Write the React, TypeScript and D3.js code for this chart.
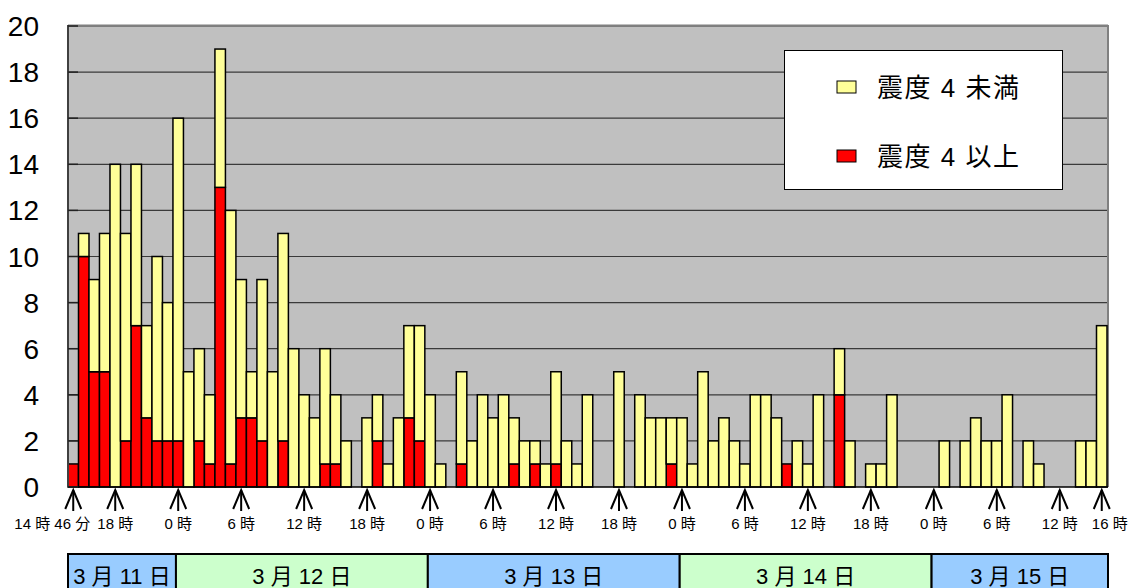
import * as d3 from "d3";

// 震度4以上 (hourly count, from 3/11 14時 to 3/15 16時)
const strong = [
  1, 10, 5, 5, 0, 2, 7, 3, 2, 2,
  2, 0, 2, 1, 13, 1, 3, 3, 2, 0, 2, 0, 0, 0, 1, 1, 0, 0, 0, 2, 0, 0, 3, 2,
  0, 0, 0, 1, 0, 0, 0, 0, 1, 0, 1, 0, 1, 0, 0, 0, 0, 0, 0, 0, 0, 0, 0, 1,
  0, 0, 0, 0, 0, 0, 0, 0, 0, 0, 1, 0, 0, 0, 0, 4, 0, 0, 0, 0, 0, 0, 0, 0,
  0, 0, 0, 0, 0, 0, 0, 0, 0, 0, 0, 0, 0, 0, 0, 0, 0,
];
// 震度4未満
const weak = [
  0, 1, 4, 6, 14, 9, 7, 4, 8, 6,
  14, 5, 4, 3, 6, 11, 6, 2, 7, 5, 9, 6, 4, 3, 5, 3, 2, 0, 3, 2, 1, 3, 4, 5,
  4, 1, 0, 4, 2, 4, 3, 4, 2, 2, 1, 1, 4, 2, 1, 4, 0, 0, 5, 0, 4, 3, 3, 2,
  3, 1, 5, 2, 3, 2, 1, 4, 4, 3, 0, 2, 1, 4, 0, 2, 2, 0, 1, 1, 4, 0, 0, 0,
  0, 2, 0, 2, 3, 2, 2, 4, 0, 2, 1, 0, 0, 0, 2, 2, 7,
];

const markerIdx = [0, 4, 10, 16, 22, 28, 34, 40, 46, 52, 58, 64, 70, 76, 82, 88, 94, 98];
const markerLabels = [
  "14 時 46 分", "18 時", "0 時", "6 時", "12 時", "18 時", "0 時", "6 時", "12 時",
  "18 時", "0 時", "6 時", "12 時", "18 時", "0 時", "6 時", "12 時", "16 時",
];

const dayStart = [0, 10, 34, 58, 82];
const dayLabels = ["3 月 11 日", "3 月 12 日", "3 月 13 日", "3 月 14 日", "3 月 15 日"];
const dayColors = ["#99ccff", "#ccffcc", "#99ccff", "#ccffcc", "#99ccff"];

const yTicks = [0, 2, 4, 6, 8, 10, 12, 14, 16, 18, 20];
const legendLabels = ["震度 4 未満", "震度 4 以上"];

const W = 1139;
const H = 588;
const left = 68;
const right = 1107;
const top = 26;
const bottom = 487;
const font = "'Liberation Sans', Arial, 'Noto Sans CJK JP', sans-serif";

export default function App() {
  const idx = strong.map((_, i) => i);
  const x = d3.scaleBand<number>().domain(idx).range([left, right]).padding(0);
  const y = d3.scaleLinear().domain([0, 20]).range([bottom, top]);

  const rows = idx.map((i) => ({ strong: strong[i], weak: weak[i] }));
  const series = d3.stack<any>().keys(["strong", "weak"])(rows);
  const fills = ["#ff0000", "#ffff99"];
  const bw = x.bandwidth();

  const dayEdge = (k: number) =>
    k >= dayStart.length ? right + 1 : k === 0 ? left : (x(dayStart[k]) as number) + 3;

  return (
    <svg width={W} height={H} style={{ position: "absolute", left: 0, top: 0 }}>
      <rect x={0} y={0} width={W} height={H} fill="#ffffff" />
      {/* plot background */}
      <rect x={left} y={top} width={right - left} height={bottom - top} fill="#c0c0c0" />
      {yTicks.filter((t) => t > 0).map((t) => (
        <line key={t} x1={left} x2={right} y1={y(t)} y2={y(t)} stroke="#3a3a3a" strokeWidth={1.2} />
      ))}
      <line x1={left} x2={right + 1} y1={top - 0.5} y2={top - 0.5} stroke="#808080" strokeWidth={2} />
      <line x1={right + 1} x2={right + 1} y1={top - 1} y2={bottom} stroke="#808080" strokeWidth={2} />

      {/* bars */}
      {series.map((s, si) =>
        s.map((d, i) =>
          d[1] - d[0] > 0 ? (
            <rect
              key={si + "-" + i}
              x={x(i)}
              y={y(d[1])}
              width={bw}
              height={y(d[0]) - y(d[1])}
              fill={fills[si]}
              stroke="#000"
              strokeWidth={1.5}
            />
          ) : null
        )
      )}

      {/* axes */}
      <line x1={left} x2={left} y1={top - 1} y2={bottom} stroke="#404040" strokeWidth={2} />
      <line x1={left} x2={right + 1} y1={bottom} y2={bottom} stroke="#000" strokeWidth={1.5} />
      {yTicks.map((t) => (
        <g key={t}>
          <line x1={left} x2={left + 10} y1={y(t)} y2={y(t)} stroke="#222" strokeWidth={1.5} />
          <text x={39} y={y(t)} dy="0.36em" textAnchor="end" fontSize={28} fontFamily={font} fill="#000">
            {t}
          </text>
        </g>
      ))}

      {/* hour markers */}
      {markerIdx.map((m, k) => {
        const cx = (x(m) as number) + bw / 2;
        const ty = bottom + 2;
        const last = k === markerIdx.length - 1;
        const tx = k === 0 ? cx - 21 : last ? cx + 8 : cx;
        return (
          <g key={k}>
            <line x1={cx} x2={cx} y1={ty + 1} y2={ty + 22} stroke="#000" strokeWidth={2} />
            <path d={`M${cx - 8},${ty + 20}L${cx},${ty + 1}L${cx + 8},${ty + 20}`} fill="none" stroke="#000" strokeWidth={2} />
            <text x={tx} y={529} textAnchor="middle" fontSize={15} fontFamily={font} fill="#000">
              {markerLabels[k]}
            </text>
          </g>
        );
      })}

      {/* date boxes */}
      {dayLabels.map((lab, k) => {
        const x0 = dayEdge(k);
        const x1 = dayEdge(k + 1);
        return (
          <g key={lab}>
            <rect x={x0} y={554} width={x1 - x0} height={40} fill={dayColors[k]} stroke="#000" strokeWidth={2} />
            <text x={(x0 + x1) / 2} y={584} textAnchor="middle" fontSize={22} fontFamily={font} fill="#000">
              {lab}
            </text>
          </g>
        );
      })}

      {/* legend */}
      <rect x={784.5} y={50.5} width={278} height={139} fill="#ffffff" stroke="#000" strokeWidth={1} />
      {legendLabels.map((lab, k) => (
        <g key={lab}>
          <rect x={837} y={81 + k * 69} width={19} height={12} fill={k === 0 ? fills[1] : fills[0]} stroke="#000" strokeWidth={1} />
          <text x={877} y={88 + k * 69} dy="0.36em" fontSize={26} letterSpacing={1.5} fontFamily={font} fill="#000" style={{ whiteSpace: "pre" }}>
            {lab}
          </text>
        </g>
      ))}
    </svg>
  );
}
